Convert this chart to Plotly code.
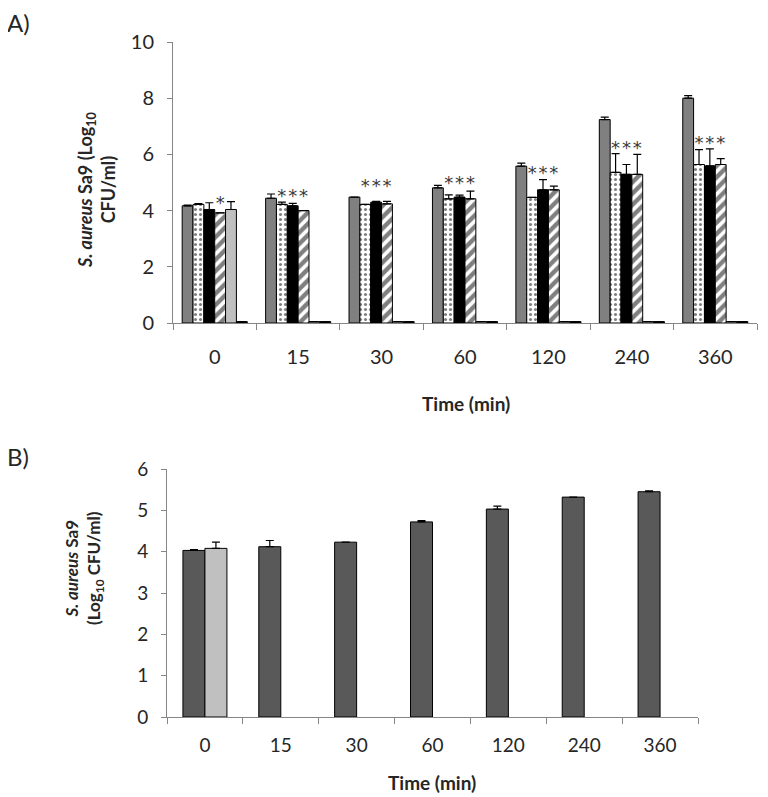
import plotly.graph_objects as go

times = ["0", "15", "30", "60", "120", "240", "360"]

# Panel A series (Log10 CFU/ml) and upper error bars
a_grey = [4.17, 4.44, 4.48, 4.81, 5.58, 7.24, 8.00]
a_grey_err = [0.03, 0.15, 0.0, 0.09, 0.11, 0.09, 0.09]
a_dots = [4.22, 4.22, 4.22, 4.42, 4.47, 5.36, 5.64]
a_dots_err = [0.03, 0.08, 0.0, 0.14, 0.0, 0.67, 0.53]
a_black = [4.04, 4.17, 4.30, 4.48, 4.74, 5.29, 5.59]
a_black_err = [0.24, 0.09, 0.03, 0.07, 0.36, 0.35, 0.61]
a_hatch = [3.92, 4.00, 4.24, 4.42, 4.74, 5.29, 5.64]
a_hatch_err = [0.0, 0.0, 0.09, 0.27, 0.13, 0.71, 0.21]
a_light = [4.04, 0.05, 0.05, 0.05, 0.05, 0.05, 0.05]
a_light_err = [0.28, 0, 0, 0, 0, 0, 0]
a_zero = [0.05, 0.05, 0.05, 0.05, 0.05, 0.05, 0.05]

# significance stars: height per time point and which series carry them
star_height = [4.20, 4.48, 4.81, 4.94, 5.30, 6.16, 6.37]
star_dots = [0, 1, 1, 1, 1, 1, 1]
star_black = [0, 1, 1, 1, 1, 1, 1]
star_hatch = [1, 1, 1, 1, 1, 1, 1]

# Panel B series
b_dark = [4.03, 4.12, 4.23, 4.72, 5.03, 5.32, 5.45]
b_dark_err = [0.02, 0.15, 0.0, 0.03, 0.07, 0.0, 0.02]
b_light = [4.08, None, None, None, None, None, None]
b_light_err = [0.15, 0, 0, 0, 0, 0, 0]

W, H = 768, 797
OFF = 8  # page body margin in the browser
FONT = "Lato"
TXT = "#262626"
AX = "#868686"
idx = list(range(len(times)))

fig = go.Figure()

wA = 0.13
a_series = [
    (a_grey, a_grey_err, dict(color="#808080"), None),
    (a_dots, a_dots_err, dict(color="white", pattern=dict(shape=".", fgcolor="black", bgcolor="white", size=5, solidity=0.3)), star_dots),
    (a_black, a_black_err, dict(color="black"), star_black),
    (a_hatch, a_hatch_err, dict(color="white", pattern=dict(shape="/", fgcolor="black", bgcolor="white", size=8, solidity=0.55)), star_hatch),
    (a_light, a_light_err, dict(color="#c0c0c0"), None),
    (a_zero, [0] * 7, dict(color="black"), None),
]
n = len(a_series)
for i, (vals, err, mk, stars) in enumerate(a_series):
    off = -n * wA / 2 + i * wA
    mk = dict(mk)
    mk["line"] = dict(color="black", width=1)
    fig.add_trace(go.Bar(
        x=idx, y=vals, width=wA, offset=off, marker=mk,
        error_y=dict(type="data", symmetric=False, array=err, arrayminus=[0] * 7,
                     color="black", thickness=1.2, width=4),
        xaxis="x", yaxis="y", showlegend=False))
    if stars:
        xs = [k + off + wA / 2 for k in idx if stars[k]]
        ys = [star_height[k] for k in idx if stars[k]]
        fig.add_trace(go.Scatter(
            x=xs, y=ys, mode="text", text=["*"] * len(xs),
            textposition="middle center",
            textfont=dict(family="DejaVu Sans", size=18, color="#3a3a3a"),
            xaxis="x", yaxis="y", showlegend=False))

wB = 0.29
b_series = [
    (b_dark, b_dark_err, "#595959"),
    (b_light, b_light_err, "#c0c0c0"),
]
for i, (vals, err, col) in enumerate(b_series):
    off = -len(b_series) * wB / 2 + i * wB
    fig.add_trace(go.Bar(
        x=idx, y=vals, width=wB, offset=off,
        marker=dict(color=col, line=dict(color="black", width=1)),
        error_y=dict(type="data", symmetric=False, array=err, arrayminus=[0] * 7,
                     color="black", thickness=1.2, width=4),
        xaxis="x2", yaxis="y2", showlegend=False))


def fx(px):
    return (px - OFF) / W


def fy(py):
    return 1 - (py - OFF) / H


def px_x(a, b):
    return [fx(a), fx(b)]


def px_y(top, bottom):
    return [fy(bottom), fy(top)]


bounds = [k - 0.5 for k in range(len(times) + 1)]


def xcommon(fs):
    return dict(range=[-0.5, len(times) - 0.5], tickvals=idx, ticktext=times,
                ticks="", showline=True, linecolor=AX, linewidth=1,
                showgrid=False, zeroline=False, automargin=False,
                tickfont=dict(family=FONT, size=fs, color=TXT),
                minor=dict(tickvals=bounds, ticks="outside", ticklen=6,
                           tickcolor=AX, tickwidth=1))


def ycommon(fs):
    return dict(ticks="outside", ticklen=5, tickcolor=AX, showline=True,
                linecolor=AX, linewidth=1, showgrid=False, zeroline=False,
                automargin=False,
                tickfont=dict(family=FONT, size=fs, color=TXT))


fig.update_layout(
    width=W, height=H,
    margin=dict(l=0, r=0, t=0, b=0, autoexpand=False),
    paper_bgcolor="white", plot_bgcolor="white",
    barmode="overlay",
    xaxis=dict(domain=px_x(173, 757), anchor="y", ticklabelstandoff=16, **xcommon(20)),
    yaxis=dict(domain=px_y(42, 323), anchor="x", range=[0, 10], dtick=2,
               ticklabelstandoff=9, **ycommon(20)),
    xaxis2=dict(domain=px_x(167, 698), anchor="y2", ticklabelstandoff=11, **xcommon(19)),
    yaxis2=dict(domain=px_y(469, 717), anchor="x2", range=[0, 6], dtick=1,
                ticklabelstandoff=9, **ycommon(19)),
)

ann = [
    dict(text="A)", x=fx(5), y=fy(22), xanchor="left", font=dict(size=24)),
    dict(text="B)", x=fx(5), y=fy(456), xanchor="left", font=dict(size=24)),
    dict(text="<b>Time (min)</b>", x=fx(466), y=fy(403), font=dict(size=19)),
    dict(text="<b>Time (min)</b>", x=fx(432), y=fy(782), font=dict(size=19)),
    dict(text="<b><i>S. aureus</i> Sa9 (Log<sub>10</sub><br>CFU/ml)</b>",
         x=fx(97), y=fy(190), textangle=-90, font=dict(size=18)),
    dict(text="<b><i>S. aureus</i> Sa9<br>(Log<sub>10</sub> CFU/ml)</b>",
         x=fx(84), y=fy(568), textangle=-90, font=dict(size=17)),
]
for a in ann:
    a.setdefault("xanchor", "center")
    a["font"] = dict(family=FONT, color=TXT, **a["font"])
    fig.add_annotation(xref="paper", yref="paper", showarrow=False,
                       yanchor="middle", **a)

fig.write_html("out.html")
